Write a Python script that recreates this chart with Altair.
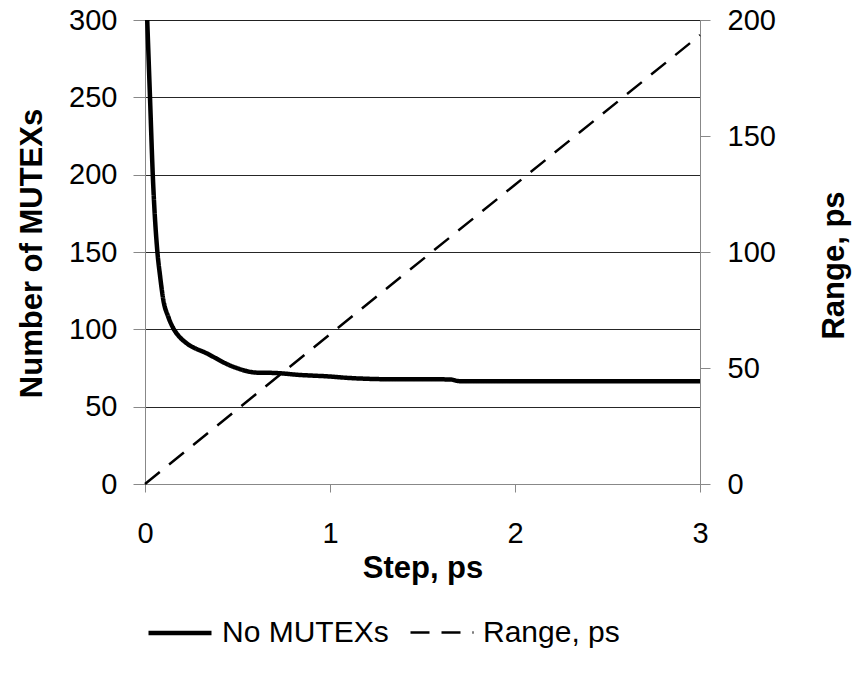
import altair as alt
import pandas as pd

# No MUTEXs curve
mutex_step = [0.012, 0.027, 0.042, 0.067, 0.081, 0.099, 0.126, 0.153, 0.189, 0.225,
              0.333, 0.477, 0.604, 0.70, 0.838, 1.0, 1.11, 1.36, 1.54, 1.65, 1.70,
              2.0, 2.5, 3.0]
mutex_count = [300, 250, 200, 150, 135, 119, 108, 100.7, 94.8, 91,
               84.5, 75.8, 72, 71.8, 70.5, 69.5, 68.5, 67.7, 67.7, 67.6, 66.5,
               66.4, 66.4, 66.4]

# Range, ps
range_step = [0, 1, 2, 3]
range_ps = [0, 64.5, 129, 193.5]

series_names = ["No MUTEXs", "Range, ps"]

df_m = pd.DataFrame({"step": mutex_step, "val": mutex_count, "series": series_names[0]})
df_r = pd.DataFrame({"step": range_step, "val": range_ps, "series": series_names[1]})

FONT = "Liberation Sans"
LBL = 29
TTL = 31

x_enc = alt.X("step:Q", scale=alt.Scale(domain=[0, 3], nice=False),
              axis=alt.Axis(values=[0, 1, 2, 3], title="Step, ps", grid=False,
                            tickSize=8, labelPadding=27, titlePadding=5, labelFlush=False,
                            labelFontSize=LBL, titleFontSize=TTL, titleFontWeight="bold"))

legend = alt.Legend(title=None, orient="none", legendX=1, legendY=579,
                    direction="horizontal", symbolType="stroke", symbolSize=3969,
                    labelFontSize=30, labelFont=FONT, labelColor="black", labelLimit=400,
                    symbolStrokeColor="black", columnPadding=16, labelOffset=8)

dash_enc = alt.StrokeDash("series:N", scale=alt.Scale(domain=series_names, range=[[1, 0], [19, 12]]),
                          legend=legend)
width_enc = alt.StrokeWidth("series:N", scale=alt.Scale(domain=series_names, range=[4.5, 2.5]),
                            legend=legend)

left = alt.Chart(df_m).mark_line(color="black", interpolate="monotone").encode(
    x=x_enc,
    y=alt.Y("val:Q", scale=alt.Scale(domain=[0, 300], nice=False),
            axis=alt.Axis(values=[0, 50, 100, 150, 200, 250, 300], title="Number of MUTEXs",
                          grid=True, gridColor="black", gridWidth=1, gridOpacity=0.85,
                          tickSize=12, labelPadding=16,
                          titleX=-113, titleY=233, titleAngle=270,
                          titleAlign="center", titleBaseline="middle",
                          labelFontSize=LBL, titleFontSize=TTL, titleFontWeight="bold")),
    strokeDash=dash_enc,
    strokeWidth=width_enc,
)

right = alt.Chart(df_r).mark_line(color="black").encode(
    x=x_enc,
    y=alt.Y("val:Q", scale=alt.Scale(domain=[0, 200], nice=False),
            axis=alt.Axis(orient="right", values=[0, 50, 100, 150, 200], title="Range, ps",
                          grid=False, tickSize=10, labelPadding=17,
                          titleX=134, titleY=245, titleAngle=270,
                          titleAlign="center", titleBaseline="middle",
                          labelFontSize=LBL, titleFontSize=TTL, titleFontWeight="bold")),
    strokeDash=dash_enc,
    strokeWidth=width_enc,
)

chart = alt.layer(left, right).resolve_scale(y="independent").properties(
    width=555, height=464,
    autosize=alt.AutoSizeParams(type="none"),
    padding={"left": 137, "top": 12, "right": 157, "bottom": 181},
).configure_view(stroke=None).configure_axis(
    domainColor="black", tickColor="black", labelColor="black", titleColor="black",
    labelFont=FONT, titleFont=FONT, domainWidth=1, tickWidth=1,
).configure(background="white")

chart.save("out.html", embed_options={"renderer": "svg", "actions": False})
